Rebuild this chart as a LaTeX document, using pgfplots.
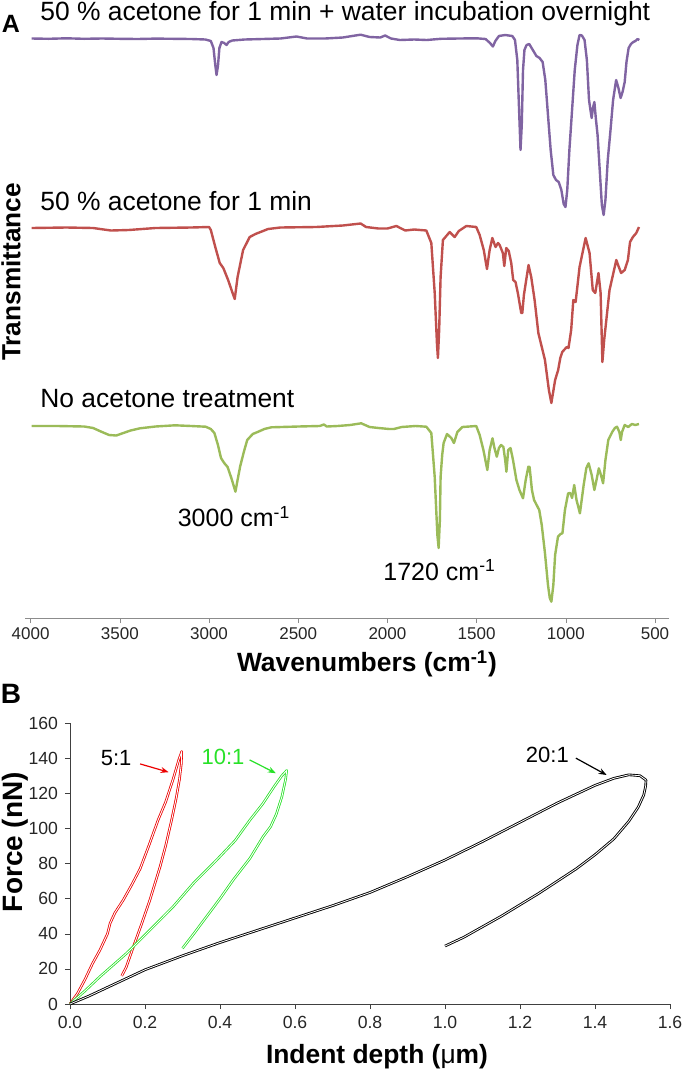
\documentclass[border=0pt]{standalone}
\usepackage{fontspec}
\setmainfont{Liberation Sans}
\usepackage{pgfplots}
\pgfplotsset{compat=1.18}
\usetikzlibrary{arrows.meta}
\definecolor{cpurple}{RGB}{128,100,162}
\definecolor{cred}{RGB}{192,80,77}
\definecolor{cgreen}{RGB}{155,187,89}
\definecolor{bred}{RGB}{236,0,0}
\definecolor{bgreen}{RGB}{40,225,40}
\newcommand\fs[1]{\fontsize{#1}{#1}\selectfont}
\begin{document}
\begin{tikzpicture}
\path[use as bounding box] (0pt,0pt) rectangle (342.5pt,-536pt);
% ---------------- Panel A ----------------
\begin{axis}[
  at={(12.65pt,-309pt)}, anchor=south west,
  scale only axis, width=322pt, height=309pt,
  x dir=reverse, xmin=420, xmax=4030, ymin=-618, ymax=0,
  axis x line*=bottom, axis y line=none,
  axis line style={draw=black!45,-},
  xtick={500,1000,1500,2000,2500,3000,3500,4000},
  tick align=outside, major tick length=2.5pt,
  tick style={black!45},
  /pgf/number format/1000 sep={},
  /pgf/number format/assume math mode=true,
  ticklabel style={font=\fs{8.5}, text=black!85},
  xticklabel style={yshift=1pt},
  clip=false,
]
\addplot[cpurple, line width=1.2pt, line join=round] coordinates {
(3995,-38.5)(3900,-38.8)(3800,-38.3)(3700,-38.8)(3600,-38.5)(3500,-38.8)(3400,-39)(3300,-38.6)(3200,-38.8)(3100,-39)
(3020,-39.5)(2990,-41)(2975,-48)(2965,-65)(2958,-75)(2950,-66)(2942,-48)(2930,-42)(2915,-43)(2902,-45)(2890,-42)
(2870,-40.5)(2800,-39.5)(2700,-39)(2600,-38.5)(2510,-36.5)(2450,-38.5)(2350,-38.5)(2250,-37.5)(2180,-35.5)(2150,-34.7)
(2100,-37)(2040,-37.5)(2013,-35.5)(1980,-38.5)(1930,-40)(1850,-39.5)(1780,-40)(1700,-38.8)(1600,-38.5)(1500,-38.3)
(1450,-39)(1425,-43)(1409,-46.5)(1395,-41)(1375,-36)(1340,-35)(1300,-36)(1285,-40)(1272,-60)(1262,-110)(1254,-150)
(1247,-125)(1240,-70)(1232,-50)(1220,-45)(1205,-44)(1185,-50)(1165,-56)(1147,-58)(1130,-62)(1115,-80)(1100,-115)
(1085,-150)(1070,-175)(1055,-180)(1040,-182)(1025,-190)(1012,-204)(1002,-207)(992,-190)(980,-150)(965,-110)(950,-70)
(935,-45)(923,-35)(910,-35.5)(895,-40)(882,-60)(870,-100)(862,-110)(855,-118)(848,-108)(840,-102)(832,-118)(822,-135)
(810,-170)(798,-205)(788,-215)(778,-200)(765,-160)(752,-135)(735,-100)(718,-80)(705,-88)(693,-98)(682,-92)(670,-82)
(660,-62)(648,-48)(635,-44)(622,-42)(610,-41)(598,-39)(588,-40)};
\addplot[cred, line width=1.2pt, line join=round] coordinates {
(3995,-228)(3800,-227.5)(3650,-228)(3550,-230.5)(3450,-230)(3300,-228)(3100,-227.5)(3000,-227)(2990,-230)(2965,-247)
(2940,-263)(2920,-268)(2893,-280)(2870,-292)(2856,-299)(2840,-277)(2809,-250)(2772,-237)(2740,-234)(2669,-229)(2600,-227.5)
(2400,-227)(2250,-225.5)(2150,-223.5)(2120,-227)(2050,-228.5)(2000,-228.5)(1950,-226)(1900,-230.5)(1850,-229.5)
(1782,-230.5)(1754,-243)(1735,-293)(1722,-345)(1717,-358)(1710,-330)(1702,-277)(1689,-240)(1651,-232)(1623,-237)
(1600,-231)(1558,-226)(1502,-227)(1483,-235)(1460,-250)(1442,-269)(1427,-250)(1412,-238)(1394,-247)(1380,-243)
(1371,-245)(1353,-253)(1345,-266)(1334,-248)(1320,-251)(1306,-263)(1295,-280)(1282,-282)(1269,-293)(1250,-313)
(1244,-313)(1235,-295)(1222,-280)(1209,-265)(1194,-277)(1175,-300)(1154,-333)(1117,-360)(1095,-390)(1081,-403)
(1060,-380)(1043,-370)(1031,-358)(1020,-352)(995,-347)(985,-348)(970,-330)(958,-300)(945,-302)(923,-267)(889,-238)
(867,-253)(849,-290)(835,-293)(817,-273)(805,-293)(795,-362)(785,-340)(770,-315)(755,-290)(717,-260)(705,-266)
(690,-273)(670,-270)(652,-260)(640,-242)(624,-237)(605,-233)(590,-227)};
\addplot[cgreen, line width=1.2pt, line join=round] coordinates {
(3995,-426)(3850,-426)(3700,-426.5)(3650,-428)(3600,-432)(3560,-435)(3520,-435.5)(3485,-433.3)(3440,-430.5)(3387,-428.3)
(3300,-426.5)(3191,-425.3)(3100,-426)(3019,-426.7)(2990,-429)(2970,-433)(2950,-445)(2933,-458)(2915,-463)(2896,-467)
(2875,-478)(2852,-491.7)(2838,-478)(2825,-466)(2805,-452)(2786,-440)(2755,-434)(2724,-431.7)(2690,-429)(2651,-427.3)
(2500,-426.5)(2380,-426)(2356,-424.5)(2340,-426.5)(2280,-426)(2209,-425)(2147,-423.3)(2100,-427)(2050,-428)(1990,-429)
(1964,-429)(1920,-427)(1842,-426)(1782,-426.7)(1754,-433)(1735,-477)(1720,-535)(1713,-548)(1706,-520)(1702,-477)
(1693,-455)(1685,-443)(1666,-434)(1642,-438)(1627,-443)(1608,-432)(1580,-427)(1502,-426)(1483,-435)(1462,-450)
(1440,-470)(1427,-450)(1411,-438.3)(1400,-448)(1387,-456.7)(1375,-448)(1363,-445)(1350,-447)(1340,-460)(1333,-471.7)
(1323,-450)(1310,-448)(1296,-460)(1277,-480)(1260,-490)(1240,-498.3)(1225,-480)(1210,-466.7)(1203,-467)(1190,-490)
(1178,-500)(1149,-510)(1135,-525)(1117,-553)(1100,-585)(1090,-598)(1081,-601.7)(1070,-585)(1060,-555)(1044,-536.7)
(1030,-534)(1019,-533.3)(1005,-510)(987,-493.3)(975,-493)(965,-498)(953,-485)(940,-500)(921,-513.3)(900,-485)
(885,-468)(872,-463.3)(855,-475)(840,-490)(828,-480)(815,-468.3)(803,-475)(791,-483.3)(778,-460)(762,-440)(740,-432)
(725,-428)(713,-426.7)(700,-432)(692,-440)(685,-432)(670,-425)(650,-427)(630,-424)(610,-425)(590,-424)};
\end{axis}
\node[anchor=base west, inner sep=0pt, font=\fs{13.2}] at (20pt,-10.35pt) {50 \% acetone for 1 min + water incubation overnight};
\node[anchor=base west, inner sep=0pt, font=\fs{13.2}] at (20pt,-105.35pt) {50 \% acetone for 1 min};
\node[anchor=base west, inner sep=0pt, font=\fs{13.2}] at (20pt,-203.65pt) {No acetone treatment};
\node[anchor=base west, inner sep=0pt, font=\fs{12.5}] at (88.7pt,-263.35pt) {3000 cm\textsuperscript{-1}};
\node[anchor=base west, inner sep=0pt, font=\fs{12.5}] at (191.5pt,-290pt) {1720 cm\textsuperscript{-1}};
\node[inner sep=0pt, font=\bfseries\fs{12.5}] at (5.5pt,-11.75pt) {A};
\node[inner sep=0pt, rotate=90, font=\bfseries\fs{13.1}] at (5.5pt,-136pt) {Transmittance};
\node[anchor=base, inner sep=0pt, font=\bfseries\fs{13.2}] at (183.5pt,-335.85pt) {Wavenumbers (cm\textsuperscript{-1})};
% ---------------- Panel B ----------------
\node[inner sep=0pt, font=\bfseries\fs{14}] at (5.5pt,-347pt) {B};
\begin{axis}[
  at={(35pt,-502pt)}, anchor=south west,
  scale only axis, width=300pt, height=140.5pt,
  xmin=0, xmax=1.6, ymin=0, ymax=160,
  axis x line*=bottom, axis y line*=left,
  axis line style={draw=black!75,-},
  xtick={0,0.2,0.4,0.6,0.8,1.0,1.2,1.4,1.6},
  ytick={0,20,40,60,80,100,120,140,160},
  tick align=outside, major tick length=2.5pt,
  tick style={black!75},
  /pgf/number format/assume math mode=true,
  ticklabel style={font=\fs{8.8}, text=black!85},
  xticklabel style={/pgf/number format/fixed, /pgf/number format/fixed zerofill, /pgf/number format/precision=1},
  clip=false,
]
\addplot[bred, line width=0.4pt, double=white, double distance=0.45pt, line join=round] coordinates {
(0,0)(0.02,6)(0.04,14)(0.06,23)(0.08,30.8)(0.1,40)(0.107,46)(0.12,52)(0.142,59.2)(0.165,68)(0.187,77)(0.21,90)
(0.235,104.8)(0.255,115)(0.275,128)(0.29,139)(0.298,143.8)(0.297,137)(0.292,128)(0.283,117)(0.271,104.8)(0.255,90)
(0.240,78)(0.213,59.2)(0.190,45)(0.169,32.6)(0.150,21)(0.138,16)};
\addplot[bgreen, line width=0.4pt, double=white, double distance=0.45pt, line join=round] coordinates {
(0,0)(0.04,7.5)(0.08,15.6)(0.151,28.9)(0.213,42.1)(0.275,55.4)(0.329,68.7)(0.391,82)(0.44,93)(0.48,104.8)(0.514,114)
(0.545,124)(0.565,130)(0.578,133)(0.575,128)(0.565,118)(0.55,108)(0.535,101)(0.515,95.3)(0.48,83)(0.435,70.6)
(0.40,60)(0.364,49.7)(0.33,40)(0.30,31.7)};
\addplot[black, line width=0.45pt, double=white, double distance=0.4pt, line join=round] coordinates {
(0,0)(0.05,4.5)(0.1,9.5)(0.2,19.5)(0.3,27.5)(0.4,35)(0.5,42)(0.6,49)(0.7,56)(0.8,63.5)(0.9,72.5)(1.0,82)(1.1,92.5)
(1.2,103.5)(1.3,114.5)(1.4,124.5)(1.45,128.5)(1.49,130.5)(1.52,130)(1.536,127.5)(1.535,124)(1.53,119)(1.515,112)
(1.49,104)(1.45,94)(1.40,85)(1.35,77)(1.30,70)(1.25,63)(1.20,56.5)(1.15,50)(1.10,44)(1.05,38)(1.0,33)};
\node[font=\fs{11}] at (axis cs:0.123,140) {5:1};
\node[font=\fs{11}, text=bgreen] at (axis cs:0.408,140.7) {10:1};
\node[font=\fs{11}] at (axis cs:1.273,141.8) {20:1};
\draw[bred, line width=0.6pt, -{Stealth[length=4pt,width=3pt]}] (axis cs:0.187,136.7) -- (axis cs:0.263,132);
\draw[bgreen, line width=0.6pt, -{Stealth[length=4pt,width=3pt]}] (axis cs:0.479,139) -- (axis cs:0.549,131.4);
\draw[black, line width=0.6pt, -{Stealth[length=4pt,width=3pt]}] (axis cs:1.349,140) -- (axis cs:1.431,130.4);
\end{axis}
\node[inner sep=0pt, rotate=90, font=\bfseries\fs{14}] at (7.5pt,-421pt) {Force (nN)};
\node[anchor=base, inner sep=0pt, font=\bfseries\fs{13.2}] at (188.5pt,-531.5pt) {Indent depth ({\mdseries μ}m)};
\end{tikzpicture}
\end{document}
